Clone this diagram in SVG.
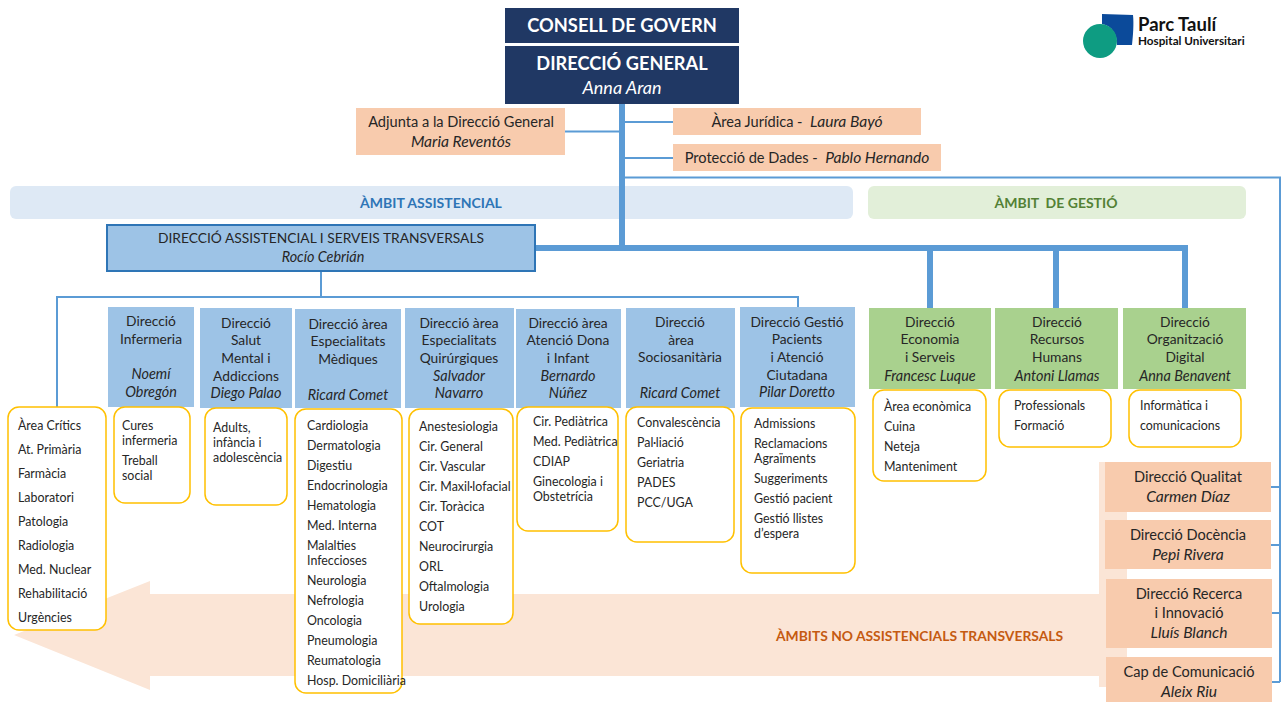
<svg xmlns="http://www.w3.org/2000/svg" width="1281" height="702" viewBox="0 0 1281 702">
<style>
text{font-family:Lato,"Liberation Sans",sans-serif;fill:#262626;font-size:12.4px}
.c{text-anchor:middle}
.h{font-size:13.8px}
.i{font-style:italic;font-size:14.4px}
.ob text{font-size:14.600px}
.ob .i{font-size:15.600px}
.w{fill:#fff;font-weight:700}
.blue{fill:#9DC3E6}
.green{fill:#A9D18E}
.or{fill:#F8CBAD}
.navy{fill:#203864}
.y{fill:#fff;stroke:#FFC000;stroke-width:1.5}
.t{fill:none;stroke:#5B9BD5;stroke-width:2}
.k{fill:none;stroke:#5B9BD5;stroke-width:6}
</style>
<g id="arrow"><path d="M14 635L150 581V594H1099V462H1127V687H1099V676H150V690Z" fill="#FBE5D6"/></g>
<g id="band-assistencial"><rect x="10" y="186" width="843" height="33" rx="6" fill="#DEE9F5"/><text class="c" x="431" y="208" style="font-size:14px;font-weight:700;fill:#2E75B6">ÀMBIT ASSISTENCIAL</text></g>
<g id="band-gestio"><rect x="868" y="186" width="378" height="33" rx="6" fill="#E2EFD9"/><text class="c" x="1056" y="208" style="font-size:14px;font-weight:700;fill:#538135">ÀMBIT&#160; DE GESTIÓ</text></g>
<g id="connectors">
<path class="k" d="M622 104V248M535 248H1188M930 248V308M1056 248V308M1185 248V308"/>
<path class="t" d="M565 131.500H620M625 122H673M625 158H673M625 177.500H1280V682M1271 487H1280M1271 545H1280M1272 613H1280M1272 682H1280M321 271V297M57 407V297H798V308"/>
</g>
<g id="consell"><rect class="navy" x="505" y="8" width="234" height="35"/><text class="c w" x="622" y="32" style="font-size:18.300px">CONSELL DE GOVERN</text></g>
<g id="direccio-general"><rect class="navy" x="505" y="46" width="234" height="58"/><text class="c w" x="622" y="70" style="font-size:18.200px">DIRECCIÓ GENERAL</text><text class="c i" x="622" y="94" style="fill:#fff;font-size:18px">Anna Aran</text></g>
<g id="adjunta" class="ob"><rect class="or" x="356" y="108" width="209" height="47"/><text class="c" x="461" y="127">Adjunta a la Direcció General</text><text class="c i" x="461" y="147">Maria Reventós</text></g>
<g id="juridica" class="ob"><rect class="or" x="673" y="108" width="248" height="27"/><text class="c" x="797" y="127">Àrea Jurídica -&#160; <tspan class="i">Laura Bayó</tspan></text></g>
<g id="dades" class="ob"><rect class="or" x="673" y="144" width="268" height="27"/><text class="c" x="807" y="163">Protecció de Dades -&#160; <tspan class="i">Pablo Hernando</tspan></text></g>
<g id="logo"><path d="M1102 14L1133 15C1134 24 1133 36 1132 45L1117 45C1117 34 1112 26 1102 24Z" fill="#0B4A9A"/><circle cx="1100" cy="41" r="17" fill="#0E9C82"/><text x="1138" y="31" style="font-size:18.500px;font-weight:700;fill:#111">Parc Taulí</text><text x="1138" y="45" style="font-size:11.700px;font-weight:700;fill:#111">Hospital Universitari</text></g>
<g id="assistencial"><rect class="blue" x="107" y="225" width="428" height="46" stroke="#2E75B6" stroke-width="2"/><text class="c h" x="321" y="243">DIRECCIÓ ASSISTENCIAL I SERVEIS TRANSVERSALS</text><text class="c i" x="323" y="262">Rocío Cebrián</text></g>
<g id="infermeria"><rect class="blue" x="108" y="307" width="86" height="100"/><text class="c h" x="151" y="326">Direcció</text><text class="c h" x="151" y="344">Infermeria</text><text class="c i" x="151" y="379">Noemí</text><text class="c i" x="151" y="397">Obregón</text></g>
<g id="salut"><rect class="blue" x="200" y="308" width="92" height="100"/><text class="c h" x="246" y="328">Direcció</text><text class="c h" x="246" y="345">Salut</text><text class="c h" x="246" y="363">Mental i</text><text class="c h" x="246" y="381">Addiccions</text><text class="c i" x="246" y="398">Diego Palao</text></g>
<g id="mediques"><rect class="blue" x="295" y="309" width="106" height="99"/><text class="c h" x="348" y="329">Direcció àrea</text><text class="c h" x="348" y="346">Especialitats</text><text class="c h" x="348" y="364">Mèdiques</text><text class="c i" x="348" y="400">Ricard Comet</text></g>
<g id="quirurgiques"><rect class="blue" x="405" y="308" width="109" height="100"/><text class="c h" x="459" y="328">Direcció àrea</text><text class="c h" x="459" y="345">Especialitats</text><text class="c h" x="459" y="363">Quirúrgiques</text><text class="c i" x="459" y="381">Salvador</text><text class="c i" x="459" y="398">Navarro</text></g>
<g id="dona"><rect class="blue" x="516" y="309" width="105" height="99"/><text class="c h" x="568" y="328">Direcció àrea</text><text class="c h" x="568" y="345">Atenció Dona</text><text class="c h" x="568" y="363">i Infant</text><text class="c i" x="568" y="381">Bernardo</text><text class="c i" x="568" y="398">Núñez</text></g>
<g id="socio"><rect class="blue" x="626" y="308" width="109" height="100"/><text class="c h" x="680" y="327">Direcció</text><text class="c h" x="681" y="345">àrea</text><text class="c h" x="680" y="362">Sociosanitària</text><text class="c i" x="680" y="398">Ricard Comet</text></g>
<g id="gestio-pacients"><rect class="blue" x="740" y="307" width="115" height="100"/><text class="c h" x="797" y="327">Direcció Gestió</text><text class="c h" x="797" y="344">Pacients</text><text class="c h" x="797" y="362">i Atenció</text><text class="c h" x="797" y="380">Ciutadana</text><text class="c i" x="797" y="397">Pilar Doretto</text></g>
<g id="list-critics"><rect class="y" x="8" y="407" width="98" height="223" rx="11"/><text x="18" y="430">Àrea Crítics</text><text x="18" y="454">At. Primària</text><text x="18" y="478">Farmàcia</text><text x="18" y="502">Laboratori</text><text x="18" y="526">Patologia</text><text x="18" y="550">Radiologia</text><text x="18" y="574">Med. Nuclear</text><text x="18" y="598">Rehabilitació</text><text x="18" y="622">Urgències</text></g>
<g id="list-cures"><rect class="y" x="114" y="407" width="76" height="96" rx="11"/><text x="122" y="430">Cures</text><text x="122" y="445">infermeria</text><text x="122" y="465">Treball</text><text x="122" y="480">social</text></g>
<g id="list-adults"><rect class="y" x="205" y="408" width="82" height="97" rx="11"/><text x="213" y="432">Adults,</text><text x="213" y="447">infància i</text><text x="213" y="462">adolescència</text></g>
<g id="list-mediques"><rect class="y" x="295" y="409" width="107" height="284" rx="11"/><text x="307" y="430">Cardiologia</text><text x="307" y="450">Dermatologia</text><text x="307" y="470">Digestiu</text><text x="307" y="490">Endocrinologia</text><text x="307" y="510">Hematologia</text><text x="307" y="530">Med. Interna</text><text x="307" y="550">Malalties</text><text x="307" y="565">Infeccioses</text><text x="307" y="585">Neurologia</text><text x="307" y="605">Nefrologia</text><text x="307" y="625">Oncologia</text><text x="307" y="645">Pneumologia</text><text x="307" y="665">Reumatologia</text><text x="307" y="685">Hosp. Domiciliària</text></g>
<g id="list-quirurgiques"><rect class="y" x="409" y="409" width="104" height="215" rx="11"/><text x="419" y="431">Anestesiologia</text><text x="419" y="451">Cir. General</text><text x="419" y="471">Cir. Vascular</text><text x="419" y="491">Cir. Maxil·lofacial</text><text x="419" y="511">Cir. Toràcica</text><text x="419" y="531">COT</text><text x="419" y="551">Neurocirurgia</text><text x="419" y="571">ORL</text><text x="419" y="591">Oftalmologia</text><text x="419" y="611">Urologia</text></g>
<g id="list-dona"><rect class="y" x="517" y="407" width="101" height="124" rx="11"/><text x="533" y="426">Cir. Pediàtrica</text><text x="533" y="446">Med. Pediàtrica</text><text x="533" y="466">CDIAP</text><text x="533" y="486">Ginecologia i</text><text x="533" y="501">Obstetrícia</text></g>
<g id="list-socio"><rect class="y" x="626" y="407" width="108" height="135" rx="11"/><text x="637" y="427">Convalescència</text><text x="637" y="447">Pal·liació</text><text x="637" y="467">Geriatria</text><text x="637" y="487">PADES</text><text x="637" y="507">PCC/UGA</text></g>
<g id="list-gestio"><rect class="y" x="741" y="408" width="114" height="165" rx="11"/><text x="754" y="428">Admissions</text><text x="754" y="448">Reclamacions</text><text x="754" y="463">Agraïments</text><text x="754" y="483">Suggeriments</text><text x="754" y="503">Gestió pacient</text><text x="754" y="523">Gestió llistes</text><text x="754" y="538">d’espera</text></g>
<g id="economia"><rect class="green" x="869" y="308" width="122" height="81"/><text class="c h" x="930" y="327">Direcció</text><text class="c h" x="930" y="344">Economia</text><text class="c h" x="930" y="362">i Serveis</text><text class="c i" x="930" y="381">Francesc Luque</text></g>
<g id="rrhh"><rect class="green" x="995" y="308" width="123" height="81"/><text class="c h" x="1057" y="327">Direcció</text><text class="c h" x="1057" y="344">Recursos</text><text class="c h" x="1057" y="362">Humans</text><text class="c i" x="1057" y="381">Antoni Llamas</text></g>
<g id="digital"><rect class="green" x="1123" y="308" width="123" height="81"/><text class="c h" x="1185" y="327">Direcció</text><text class="c h" x="1185" y="344">Organització</text><text class="c h" x="1185" y="362">Digital</text><text class="c i" x="1185" y="381">Anna Benavent</text></g>
<g id="list-economia"><rect class="y" x="873" y="390" width="113" height="91" rx="11"/><text x="884" y="411">Àrea econòmica</text><text x="884" y="431">Cuina</text><text x="884" y="451">Neteja</text><text x="884" y="471">Manteniment</text></g>
<g id="list-rrhh"><rect class="y" x="999" y="390" width="112" height="57" rx="11"/><text x="1014" y="410">Professionals</text><text x="1014" y="430">Formació</text></g>
<g id="list-digital"><rect class="y" x="1129" y="390" width="112" height="57" rx="11"/><text x="1140" y="410">Informàtica i</text><text x="1140" y="430">comunicacions</text></g>
<g id="qualitat" class="ob"><rect class="or" x="1105" y="462" width="166" height="50"/><text class="c" x="1188" y="482">Direcció Qualitat</text><text class="c i" x="1188" y="502">Carmen Díaz</text></g>
<g id="docencia" class="ob"><rect class="or" x="1105" y="520" width="166" height="49"/><text class="c" x="1188" y="540">Direcció Docència</text><text class="c i" x="1188" y="560">Pepi Rivera</text></g>
<g id="recerca" class="ob"><rect class="or" x="1106" y="579" width="166" height="69"/><text class="c" x="1189" y="599">Direcció Recerca</text><text class="c" x="1189" y="618">i Innovació</text><text class="c i" x="1189" y="638">Lluís Blanch</text></g>
<g id="comunicacio" class="ob"><rect class="or" x="1106" y="657" width="166" height="45"/><text class="c" x="1189" y="677">Cap de Comunicació</text><text class="c i" x="1189" y="697">Aleix Riu</text></g>
<text x="776" y="641" style="font-size:13.850px;font-weight:700;fill:#C55A11">ÀMBITS NO ASSISTENCIALS TRANSVERSALS</text>
</svg>
